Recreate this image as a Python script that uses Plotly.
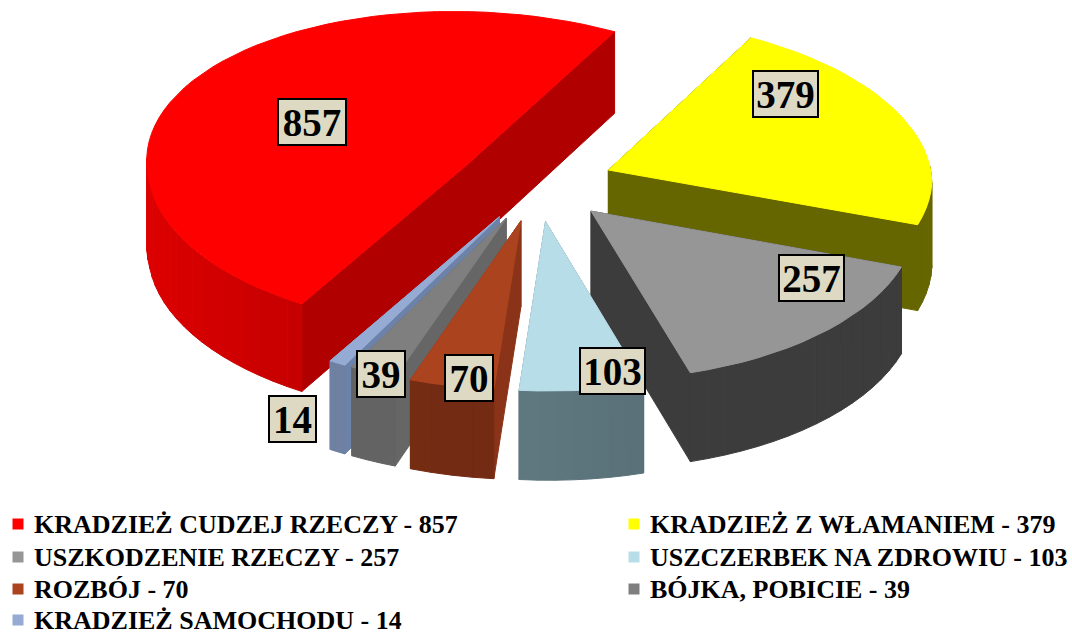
import math
import plotly.graph_objects as go

# ---- data ----
categories = ["KRADZIEŻ CUDZEJ RZECZY", "KRADZIEŻ Z WŁAMANIEM", "USZKODZENIE RZECZY",
              "USZCZERBEK NA ZDROWIU", "ROZBÓJ", "BÓJKA, POBICIE", "KRADZIEŻ SAMOCHODU"]
values = [857, 379, 257, 103, 70, 39, 14]
top_colors = ["#ff0000", "#ffff00", "#969696", "#b7dde8", "#ab431f", "#7f7f7f", "#95abd4"]
wall_left = ["#dd0000", "#666600", "#3c3c3c", "#6f8a90", "#7a2f14", "#666666", "#6f80a3"]
wall_right = ["#780000", "#666600", "#3c3c3c", "#4d626b", "#692511", "#5c5c5c", "#6f80a3"]
cut_colors = ["#b00000", "#666600", "#3c3c3c", "#5c7480", "#8a3318", "#666666", "#6d82a8"]
draw_order = [1, 0, 2, 6, 5, 4, 3]
label_x = [312, 785, 811, 612, 469, 381, 292]
label_y = [122, 94, 278, 371, 378, 374, 419]
label_w = [68, 65, 65, 65, 48, 48, 47]

# ---- 3D pie projection settings ----
CX, CY, A, B, KX, KY, DEPTH, EXPLODE = 537, 183, 323, 160, 0.03, 0.04, 85, 0.24
START_DEG = 239


def project(px, py, z=0.0):
    shear = -17 * py if py > 0 else -4 * py
    return (CX + shear + A * px * (1 - KX * py),
            CY - B * py * (1 - KY * py) + z * DEPTH * (1 - KY * py))


fig = go.Figure()


def poly(pts, color):
    xs = [p[0] for p in pts] + [pts[0][0]]
    ys = [p[1] for p in pts] + [pts[0][1]]
    fig.add_trace(go.Scatter(x=xs, y=ys, mode="lines", fill="toself", fillcolor=color,
                             line=dict(color=color, width=1), hoverinfo="skip", showlegend=False))


def mix(c1, c2, t):
    a = [int(c1[i:i + 2], 16) for i in (1, 3, 5)]
    b = [int(c2[i:i + 2], 16) for i in (1, 3, 5)]
    return "#%02x%02x%02x" % tuple(round(a[i] + (b[i] - a[i]) * t) for i in range(3))


total = sum(values)
ranges = []
ang = START_DEG
for v in values:
    ranges.append((ang, ang - 360 * v / total))
    ang -= 360 * v / total

for i in draw_order:
    t0, t1 = ranges[i]
    mid = math.radians((t0 + t1) / 2)
    ox, oy = EXPLODE * math.cos(mid), EXPLODE * math.sin(mid)
    n = max(3, int(abs(t1 - t0) / 3))
    ts = [math.radians(t0 + (t1 - t0) * j / n) for j in range(n + 1)]
    rim = [(ox + math.cos(t), oy + math.sin(t)) for t in ts]
    apex = (ox, oy)
    # cut faces
    for e in (rim[0], rim[-1]):
        poly([project(*apex), project(*e), project(*e, 1), project(*apex, 1)], cut_colors[i])
    # outer wall, only the parts that face the viewer
    for j in range(n):
        tm = (ts[j] + ts[j + 1]) / 2
        if math.sin(tm) < 0.02:
            frac = (math.cos(tm) + 1) / 2
            poly([project(*rim[j]), project(*rim[j + 1]), project(*rim[j + 1], 1), project(*rim[j], 1)],
                 mix(wall_left[i], wall_right[i], frac))
    poly([project(*apex)] + [project(*p) for p in rim], top_colors[i])

for i, v in enumerate(values):
    fig.add_annotation(x=label_x[i], y=label_y[i], text=f"<b>{v}</b>", showarrow=False,
                       font=dict(family="Liberation Serif", size=39, color="black"),
                       bgcolor="#ddd9c3", bordercolor="black", borderwidth=2,
                       width=label_w[i] - 4, height=42, align="center", valign="middle", borderpad=1)

# legend rows, two columns
legend_col = [0, 1, 0, 1, 0, 1, 0]
legend_row = [0, 0, 1, 1, 2, 2, 3]
legend_x = [18, 634]
legend_y = [524, 557, 589, 620]
for i, c in enumerate(categories):
    x0 = legend_x[legend_col[i]]
    y0 = legend_y[legend_row[i]]
    fig.add_trace(go.Scatter(x=[x0], y=[y0], mode="markers",
                             marker=dict(symbol="square", size=11, color=top_colors[i]),
                             hoverinfo="skip", showlegend=False))
    fig.add_annotation(x=x0 + 15, y=y0, xanchor="left", text=f"<b>{c} - {values[i]}</b>", showarrow=False,
                       font=dict(family="Liberation Serif", size=26, color="black"), borderpad=0,
                       height=26, valign="middle")

fig.update_xaxes(range=[0, 1072], visible=False, fixedrange=True)
fig.update_yaxes(range=[633, 0], visible=False, fixedrange=True)
fig.update_layout(width=1072, height=633, margin=dict(l=0, r=0, t=0, b=0),
                  paper_bgcolor="white", plot_bgcolor="white", showlegend=False)
fig.write_html("out.html", config={"displayModeBar": False},
               default_width="1072px", default_height="633px",
               post_script="document.body.style.margin='0';document.documentElement.style.overflow='hidden';")
